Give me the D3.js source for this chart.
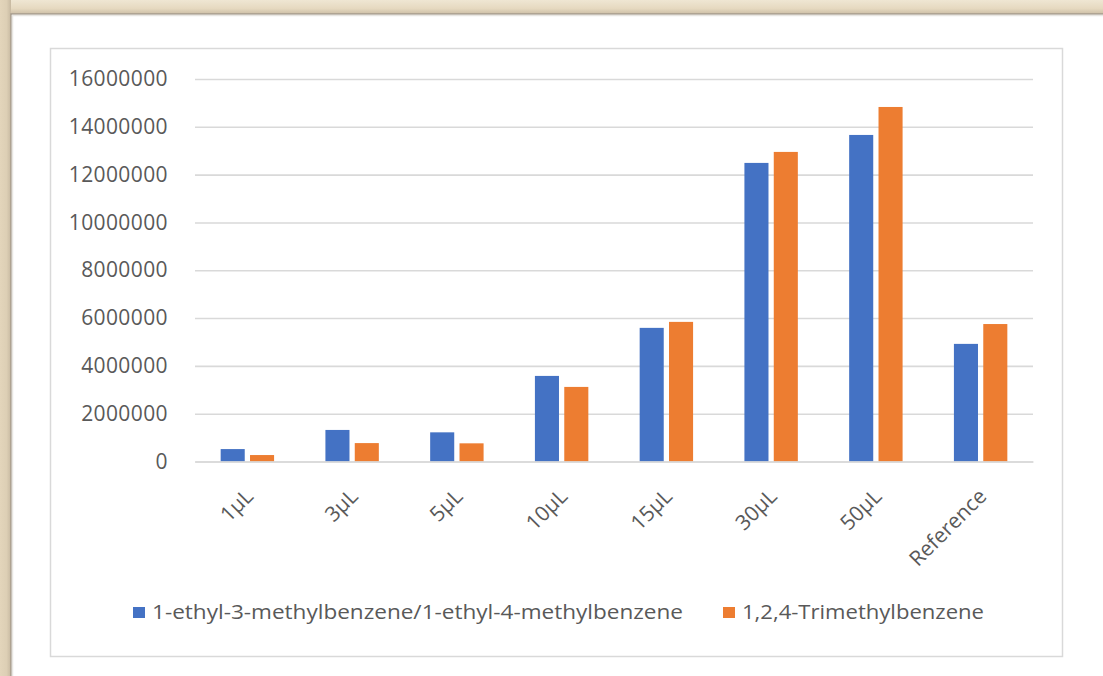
<!DOCTYPE html>
<html>
<head>
<meta charset="utf-8">
<script src="https://cdn.jsdelivr.net/npm/d3@7"></script>
<style>
  html, body { margin: 0; padding: 0; background: #ffffff; }
  svg { display: block; }
  text { font-family: "Open Sans", "Liberation Sans", sans-serif; fill: #595959; }
</style>
</head>
<body>
<svg id="chart" width="1103" height="676"></svg>
<script>
// Peak areas per injected volume
const categories = ["1µL", "3µL", "5µL", "10µL", "15µL", "30µL", "50µL", "Reference"];
const seriesNames = ["1-ethyl-3-methylbenzene/1-ethyl-4-methylbenzene", "1,2,4-Trimethylbenzene"];
const ethylMethylbenzene = [520000, 1320000, 1220000, 3580000, 5590000, 12490000, 13660000, 4920000];
const trimethylbenzene = [270000, 770000, 760000, 3120000, 5840000, 12950000, 14830000, 5750000];
const yTicks = [0, 2000000, 4000000, 6000000, 8000000, 10000000, 12000000, 14000000, 16000000];
const seriesColors = ["#4472C4", "#ED7D31"];

const svg = d3.select("#chart");
const W = 1103, H = 676;

// Framed-photo backdrop: beige mat on the top and left edges
const defs = svg.append("defs");
const gTop = defs.append("linearGradient").attr("id", "matTop").attr("x1", 0).attr("y1", 0).attr("x2", 0).attr("y2", 1);
gTop.append("stop").attr("offset", "0%").attr("stop-color", "#efe6d3");
gTop.append("stop").attr("offset", "60%").attr("stop-color", "#e6d9c0");
gTop.append("stop").attr("offset", "100%").attr("stop-color", "#cdbfa7");
const gLeft = defs.append("linearGradient").attr("id", "matLeft").attr("x1", 0).attr("y1", 0).attr("x2", 1).attr("y2", 0);
gLeft.append("stop").attr("offset", "0%").attr("stop-color", "#e3d5bb");
gLeft.append("stop").attr("offset", "60%").attr("stop-color", "#ddcfb5");
gLeft.append("stop").attr("offset", "100%").attr("stop-color", "#c7b9a1");

svg.append("rect").attr("x", 0).attr("y", 0).attr("width", W).attr("height", H).attr("fill", "#ffffff");
svg.append("rect").attr("x", 0).attr("y", 0).attr("width", W).attr("height", 14).attr("fill", "url(#matTop)");
svg.append("rect").attr("x", 0).attr("y", 0).attr("width", 11).attr("height", H).attr("fill", "url(#matLeft)");
svg.append("path").attr("d", `M11,${H} V14 H${W}`).attr("fill", "none").attr("stroke", "#a59b8c").attr("stroke-width", 1.5);
svg.append("path").attr("d", `M12.5,${H} V15.5 H${W}`).attr("fill", "none").attr("stroke", "#e8e6e2").attr("stroke-width", 1.5);

// Chart area border
svg.append("rect").attr("x", 50.5).attr("y", 48.5).attr("width", 1012).attr("height", 608)
  .attr("fill", "none").attr("stroke", "#d9d9d9").attr("stroke-width", 1.5);

// Plot area
const plot = { left: 195, right: 1033, top: 79, bottom: 461.5 };

const x0 = d3.scaleBand().domain(categories).range([plot.left, plot.right]).paddingInner(0.49).paddingOuter(0.245);
const x1 = d3.scaleBand().domain(seriesNames).range([0, x0.bandwidth()]).paddingInner(0.18);
const y = d3.scaleLinear().domain([0, 16000000]).range([plot.bottom, plot.top]);

// Gridlines and value labels
const yAxis = svg.append("g").attr("transform", `translate(${plot.left},0)`)
  .call(d3.axisLeft(y).tickValues(yTicks).tickFormat(d3.format("d"))
    .tickSize(-(plot.right - plot.left)).tickPadding(27));
yAxis.select(".domain").remove();
yAxis.selectAll(".tick line").attr("stroke", "#d9d9d9").attr("stroke-width", 1.6);
yAxis.selectAll(".tick text").attr("font-size", 21).attr("letter-spacing", "0.4px").attr("fill", "#595959");

// Bars
const rows = categories.map((c, i) => ({ cat: c, vals: [ethylMethylbenzene[i], trimethylbenzene[i]] }));
const groups = svg.append("g").selectAll("g").data(rows).join("g")
  .attr("transform", d => `translate(${x0(d.cat)},0)`);
groups.selectAll("rect").data(d => d.vals.map((v, k) => ({ name: seriesNames[k], v, k })))
  .join("rect")
  .attr("x", d => x1(d.name))
  .attr("y", d => y(d.v))
  .attr("width", x1.bandwidth())
  .attr("height", d => y(0) - y(d.v))
  .attr("fill", d => seriesColors[d.k]);

// Category axis with slanted labels
const xAxis = svg.append("g").attr("transform", `translate(0,${plot.bottom})`)
  .call(d3.axisBottom(x0).tickSize(0).tickPadding(0));
xAxis.select(".domain").attr("stroke", "#d9d9d9").attr("stroke-width", 1.6);
xAxis.selectAll(".tick text")
  .attr("font-size", 21)
  .attr("fill", "#595959")
  .attr("text-anchor", "end")
  .attr("dy", "0.75em")
  .attr("transform", "translate(-4,25) rotate(-45)");

// Legend
const legend = svg.append("g");
const legendItems = [
  { name: seriesNames[0], color: seriesColors[0], x: 133, len: 531 },
  { name: seriesNames[1], color: seriesColors[1], x: 723, len: 242 }
];
legendItems.forEach(it => {
  legend.append("rect").attr("x", it.x).attr("y", 607).attr("width", 12).attr("height", 11).attr("fill", it.color);
  legend.append("text").attr("x", it.x + 19).attr("y", 619)
    .attr("font-size", 20).attr("fill", "#595959")
    .attr("textLength", it.len).attr("lengthAdjust", "spacingAndGlyphs")
    .text(it.name);
});
</script>
</body>
</html>
